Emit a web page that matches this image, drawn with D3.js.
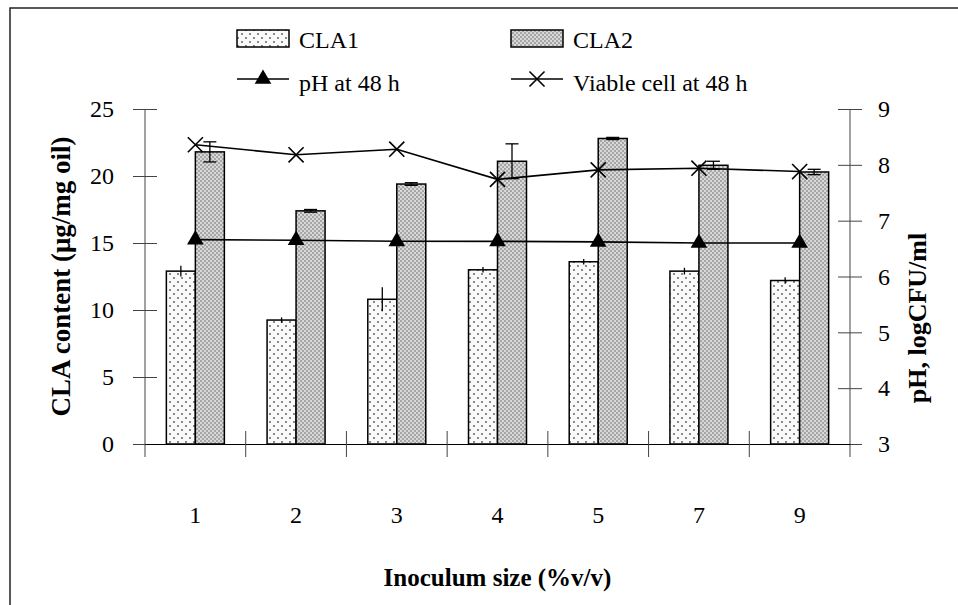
<!DOCTYPE html>
<html>
<head>
<meta charset="utf-8">
<script src="https://cdn.jsdelivr.net/npm/d3@7"></script>
<style>
  body { margin: 0; background: #fff; }
</style>
</head>
<body>
<div id="viz"></div>
<script>
// inoculum sizes (%v/v)
const categories = ["1", "2", "3", "4", "5", "7", "9"];
// CLA content (ug/mg oil)
const cla1 = [12.9, 9.25, 10.8, 13.0, 13.6, 12.9, 12.2];
const cla1Err = [0.4, 0.2, 0.9, 0.2, 0.2, 0.25, 0.25];
const cla2 = [21.8, 17.4, 19.4, 21.1, 22.8, 20.8, 20.3];
const cla2Err = [0.75, 0.1, 0.1, 1.3, 0.08, 0.3, 0.2];
// right axis series
const pH48 = [6.66, 6.65, 6.63, 6.63, 6.62, 6.60, 6.60];
const viable48 = [8.36, 8.18, 8.28, 7.74, 7.91, 7.94, 7.88];

const leftTicks = [0, 5, 10, 15, 20, 25];
const rightTicks = [3, 4, 5, 6, 7, 8, 9];

const width = 958, height = 605;
const plot = { left: 145, right: 850, top: 109, bottom: 444 };
const serif = '"Liberation Serif", "Times New Roman", "DejaVu Serif", serif';

const svg = d3.select("#viz").append("svg")
    .attr("width", width)
    .attr("height", height);

// patterns for the bars
const defs = svg.append("defs");
const p1 = defs.append("pattern").attr("id", "dots1")
    .attr("patternUnits", "userSpaceOnUse").attr("width", 8).attr("height", 8);
p1.append("rect").attr("width", 8).attr("height", 8).attr("fill", "#fafafa");
p1.append("circle").attr("cx", 2).attr("cy", 2).attr("r", 0.9).attr("fill", "#555");
p1.append("circle").attr("cx", 6).attr("cy", 6).attr("r", 0.9).attr("fill", "#555");

const p2 = defs.append("pattern").attr("id", "dots2")
    .attr("patternUnits", "userSpaceOnUse").attr("width", 4).attr("height", 4);
p2.append("rect").attr("width", 4).attr("height", 4).attr("fill", "#d8d8d8");
p2.append("circle").attr("cx", 1).attr("cy", 1).attr("r", 0.8).attr("fill", "#666");
p2.append("circle").attr("cx", 3).attr("cy", 3).attr("r", 0.8).attr("fill", "#666");

// outer frame
svg.append("rect")
    .attr("x", 10).attr("y", 8)
    .attr("width", 960).attr("height", 610)
    .attr("fill", "none").attr("stroke", "#222").attr("stroke-width", 1.5);

const x = d3.scaleBand().domain(categories).range([plot.left, plot.right]);
const yL = d3.scaleLinear().domain([0, 25]).range([plot.bottom, plot.top]);
const yR = d3.scaleLinear().domain([3, 9]).range([plot.bottom, plot.top]);
const barW = 29;
const cx = c => x(c) + x.bandwidth() / 2;

// bars
const groups = svg.append("g");
groups.selectAll("rect.cla1")
    .data(categories)
    .enter().append("rect")
    .attr("class", "cla1")
    .attr("x", d => cx(d) - barW)
    .attr("y", (d, i) => yL(cla1[i]))
    .attr("width", barW)
    .attr("height", (d, i) => yL(0) - yL(cla1[i]))
    .attr("fill", "url(#dots1)")
    .attr("stroke", "#000").attr("stroke-width", 1.5);

groups.selectAll("rect.cla2")
    .data(categories)
    .enter().append("rect")
    .attr("class", "cla2")
    .attr("x", d => cx(d))
    .attr("y", (d, i) => yL(cla2[i]))
    .attr("width", barW)
    .attr("height", (d, i) => yL(0) - yL(cla2[i]))
    .attr("fill", "url(#dots2)")
    .attr("stroke", "#000").attr("stroke-width", 1.5);

// error bars
const err = svg.append("g").attr("stroke", "#000").attr("stroke-width", 1.3);
categories.forEach((c, i) => {
    const xa = cx(c) - barW / 2;
    err.append("line").attr("x1", xa).attr("x2", xa)
        .attr("y1", yL(cla1[i] + cla1Err[i])).attr("y2", yL(cla1[i] - cla1Err[i]));
    const xb = cx(c) + barW / 2;
    err.append("line").attr("x1", xb).attr("x2", xb)
        .attr("y1", yL(cla2[i] + cla2Err[i])).attr("y2", yL(cla2[i] - cla2Err[i]));
    [cla2[i] + cla2Err[i], cla2[i] - cla2Err[i]].forEach(v => {
        err.append("line").attr("x1", xb - 6.5).attr("x2", xb + 6.5)
            .attr("y1", yL(v)).attr("y2", yL(v));
    });
});

// axes
const axisColor = "#444";
const leftAxis = svg.append("g")
    .attr("transform", `translate(${plot.left},0)`)
    .call(d3.axisLeft(yL).tickValues(leftTicks).tickSize(12).tickPadding(19).tickSizeOuter(0));
leftAxis.selectAll(".tick line").attr("x1", 12);

const rightAxis = svg.append("g")
    .attr("transform", `translate(${plot.right},0)`)
    .call(d3.axisRight(yR).tickValues(rightTicks).tickFormat(d3.format("d"))
        .tickSize(12).tickPadding(16).tickSizeOuter(0));
rightAxis.selectAll(".tick line").attr("x1", -12);

[leftAxis, rightAxis].forEach(a => {
    a.select(".domain").remove();
    a.selectAll(".tick line").attr("stroke", axisColor);
    a.selectAll("text").style("font-size", "24px").style("font-family", serif);
});
// vertical axis lines reach a bit below the baseline
svg.append("line").attr("x1", plot.left).attr("x2", plot.left)
    .attr("y1", plot.top).attr("y2", plot.bottom + 13).attr("stroke", axisColor);
svg.append("line").attr("x1", plot.right).attr("x2", plot.right)
    .attr("y1", plot.top).attr("y2", plot.bottom + 13).attr("stroke", axisColor);

const bottomAxis = svg.append("g")
    .attr("transform", `translate(0,${plot.bottom})`)
    .call(d3.axisBottom(x).tickSize(0).tickPadding(62));
bottomAxis.select(".domain").attr("stroke", "#000").attr("stroke-width", 1.2);
bottomAxis.selectAll("text").style("font-size", "24px").style("font-family", serif);

const bounds = categories.map(c => x(c)).concat([x.range()[1]]);
svg.append("g").selectAll("line")
    .data(bounds.slice(1, -1))
    .enter().append("line")
    .attr("x1", d => d).attr("x2", d => d)
    .attr("y1", plot.bottom - 13).attr("y2", plot.bottom + 13)
    .attr("stroke", axisColor);

// lines
const line = (ys, vals) => d3.line()
    .x((d, i) => cx(categories[i]))
    .y((d, i) => ys(vals[i]));

svg.append("path").datum(pH48)
    .attr("d", line(yR, pH48))
    .attr("fill", "none").attr("stroke", "#000").attr("stroke-width", 1.6);
svg.append("path").datum(viable48)
    .attr("d", line(yR, viable48))
    .attr("fill", "none").attr("stroke", "#000").attr("stroke-width", 1.6);

const tri = d3.symbol().type(d3.symbolTriangle).size(120);
svg.append("g").selectAll("path")
    .data(pH48)
    .enter().append("path")
    .attr("d", tri)
    .attr("transform", (d, i) => `translate(${cx(categories[i])},${yR(d)})`)
    .attr("fill", "#000");

const cross = d3.symbol().type(d3.symbolTimes).size(150);
svg.append("g").selectAll("path")
    .data(viable48)
    .enter().append("path")
    .attr("d", cross)
    .attr("transform", (d, i) => `translate(${cx(categories[i])},${yR(d)})`)
    .attr("fill", "none").attr("stroke", "#000").attr("stroke-width", 1.6);

// axis titles
svg.append("text")
    .attr("transform", `translate(70,${(plot.top + plot.bottom) / 2}) rotate(-90)`)
    .attr("text-anchor", "middle")
    .style("font-family", serif)
    .style("font-size", "27px").style("font-weight", "bold")
    .text("CLA content (μg/mg oil)");

svg.append("text")
    .attr("transform", `translate(926,318) rotate(-90)`)
    .attr("text-anchor", "middle")
    .style("font-family", serif)
    .style("font-size", "26px").style("font-weight", "bold")
    .text("pH, logCFU/ml");

svg.append("text")
    .attr("x", (plot.left + plot.right) / 2).attr("y", 586)
    .attr("text-anchor", "middle")
    .style("font-family", serif)
    .style("font-size", "25px").style("font-weight", "bold")
    .text("Inoculum size (%v/v)");

// legend
const legend = svg.append("g");
const legendItems = [
    { label: "CLA1", kind: "bar", fill: "url(#dots1)", x: 237, y: 44 },
    { label: "CLA2", kind: "bar", fill: "url(#dots2)", x: 511, y: 44 },
    { label: "pH at 48 h", kind: "tri", x: 237, y: 87 },
    { label: "Viable cell at 48 h", kind: "cross", x: 511, y: 87 }
];
legendItems.forEach(d => {
    if (d.kind === "bar") {
        legend.append("rect").attr("x", d.x).attr("y", d.y - 14)
            .attr("width", 52).attr("height", 17)
            .attr("fill", d.fill).attr("stroke", "#000").attr("stroke-width", 1.5);
    } else {
        legend.append("line").attr("x1", d.x).attr("x2", d.x + 52)
            .attr("y1", d.y - 8).attr("y2", d.y - 8)
            .attr("stroke", "#000").attr("stroke-width", 1.6);
        legend.append("path")
            .attr("d", d.kind === "tri" ? tri : cross)
            .attr("transform", `translate(${d.x + 26},${d.y - 8})`)
            .attr("fill", d.kind === "tri" ? "#000" : "none")
            .attr("stroke", d.kind === "tri" ? "none" : "#000")
            .attr("stroke-width", 1.6);
    }
    legend.append("text").attr("x", d.x + 62).attr("y", d.y + 4)
        .style("font-family", serif)
        .style("font-size", "24px")
        .text(d.label);
});
</script>
</body>
</html>
